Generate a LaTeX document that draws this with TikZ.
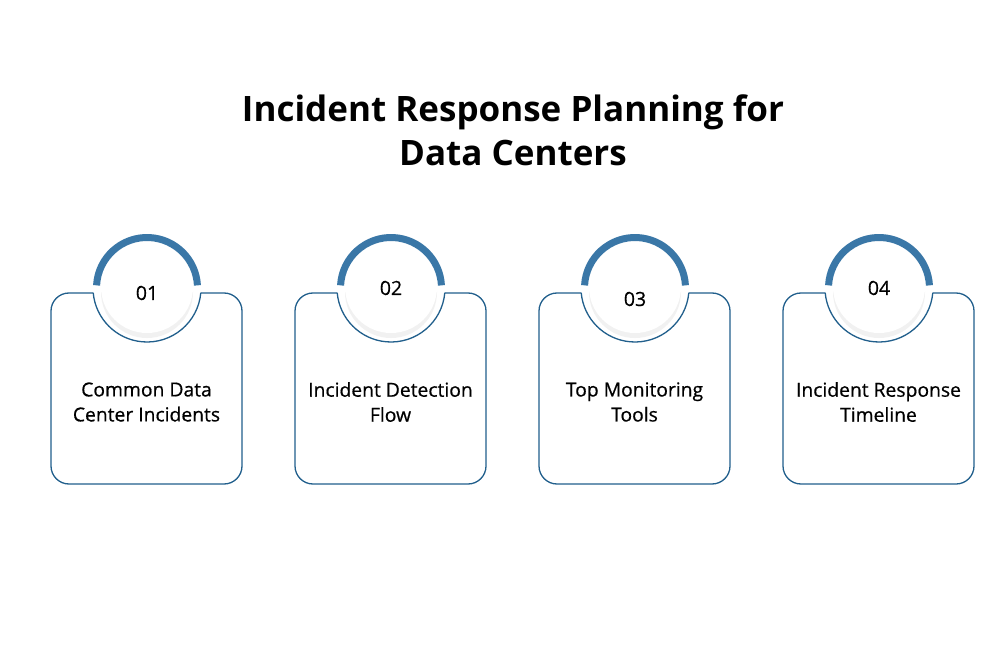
\documentclass[tikz,border=0pt]{standalone}
\usepackage{fontspec}
\setmainfont{Open Sans}
\newfontfamily\medfont{Open Sans}[FakeBold=0.6]
\usepackage{tikz}
\usetikzlibrary{positioning}
\usepackage{xcolor}
\definecolor{ringblue}{HTML}{3A77A7}
\definecolor{lineblue}{HTML}{215F8C}

\begin{document}
\begin{tikzpicture}[x=1pt,y=-1pt,
  card/.style={rectangle, draw=lineblue, line width=1.3pt, rounded corners=18pt, minimum width=191pt, minimum height=191pt},
  disk/.style={circle, fill=white, minimum size=108pt, inner sep=0pt},
  ring/.style={draw=ringblue, line width=7pt},
  rim/.style={draw=lineblue, line width=1.3pt},
  num/.style={font=\medfont\fontsize{19.5}{22}\selectfont},
  comment/.style={align=center, text centered, font=\medfont\fontsize{19.3}{25}\selectfont},
  heading/.style={align=center, font=\bfseries\fontsize{35}{44}\selectfont}]
\useasboundingbox (0,0) rectangle (998,652);
\fill[white] (0,0) rectangle (998,652);

\node [heading] (title) at (513,130) {Incident Response Planning for\\Data Centers};

% card 01
\node [card] (c1) at (146.5,388.5) {};
\node [disk] (d1) at (147,288) {};
\fill [gray!11] (147,292) circle (46);
\fill [white] (147,287) circle (46);
\draw [ring] (d1.center) ++(183:50.5) arc[start angle=183, end angle=357, radius=50.5];
\draw [rim] (d1.center) ++(5:54) arc[start angle=5, end angle=175, radius=54];
\node [num] (n1) at (147,293) {01};
\node [comment] (t1) at (146.5,402) {Common Data\\Center Incidents};

% card 02
\node [card] (c2) at (390.5,388.5) {};
\node [disk] (d2) at (391,288) {};
\fill [gray!11] (391,292) circle (46);
\fill [white] (391,287) circle (46);
\draw [ring] (d2.center) ++(183:50.5) arc[start angle=183, end angle=357, radius=50.5];
\draw [rim] (d2.center) ++(5:54) arc[start angle=5, end angle=175, radius=54];
\node [num] (n2) at (391,288) {02};
\node [comment] (t2) at (390.5,402) {Incident Detection\\Flow};

% card 03
\node [card] (c3) at (634.5,388.5) {};
\node [disk] (d3) at (635,288) {};
\fill [gray!11] (635,292) circle (46);
\fill [white] (635,287) circle (46);
\draw [ring] (d3.center) ++(183:50.5) arc[start angle=183, end angle=357, radius=50.5];
\draw [rim] (d3.center) ++(5:54) arc[start angle=5, end angle=175, radius=54];
\node [num] (n3) at (635,299) {03};
\node [comment] (t3) at (634.5,402) {Top Monitoring\\Tools};

% card 04
\node [card] (c4) at (878.5,388.5) {};
\node [disk] (d4) at (879,288) {};
\fill [gray!11] (879,292) circle (46);
\fill [white] (879,287) circle (46);
\draw [ring] (d4.center) ++(183:50.5) arc[start angle=183, end angle=357, radius=50.5];
\draw [rim] (d4.center) ++(5:54) arc[start angle=5, end angle=175, radius=54];
\node [num] (n4) at (879,288) {04};
\node [comment] (t4) at (878.5,402) {Incident Response\\Timeline};

\end{tikzpicture}
\end{document}
